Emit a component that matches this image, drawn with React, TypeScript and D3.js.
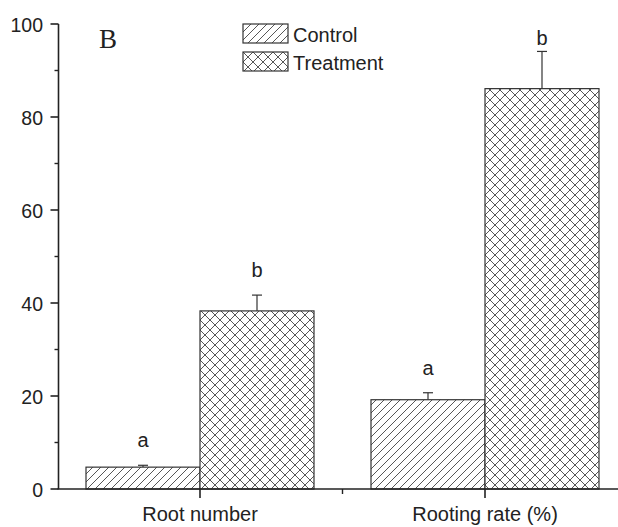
import React from 'react';
import * as d3 from 'd3';

const categories = ['Root number', 'Rooting rate (%)'];
const groups = ['Control', 'Treatment'];
const controlValues = [4.7, 19.2];
const controlErrors = [0.4, 1.5];
const treatmentValues = [38.3, 86.1];
const treatmentErrors = [3.4, 8.0];
const controlLetters = ['a', 'a'];
const treatmentLetters = ['b', 'b'];
const yTicks = [0, 20, 40, 60, 80, 100];
const yMinorTicks = [10, 30, 50, 70, 90];

const W = 618;
const H = 527;
const font = '"Liberation Sans", Arial, sans-serif';

const App = () => {
  const y = d3.scaleLinear().domain([0, 100]).range([489, 24]);
  // axis runs from 0.5 to 2.5 category units, cut by the right edge
  const x0 = d3.scaleBand().domain(categories).range([57.5, 627.5]).padding(0);
  const x1 = d3
    .scaleBand()
    .domain(groups)
    .range([0, x0.bandwidth()])
    .paddingInner(0)
    .paddingOuter(0.25);

  const series = [
    { key: 'Control', values: controlValues, errors: controlErrors, letters: controlLetters, fill: 'url(#hatchDiag)' },
    { key: 'Treatment', values: treatmentValues, errors: treatmentErrors, letters: treatmentLetters, fill: 'url(#hatchCross)' },
  ];

  const axisX = 58.5;
  const baseY = y(0);

  return (
    <svg width={W} height={H} style={{ position: 'absolute', left: 0, top: 0, background: '#fff' }}>
      <defs>
        <pattern id="hatchDiag" width="8" height="8" patternUnits="userSpaceOnUse">
          <rect width="8" height="8" fill="#fff" />
          <path d="M-1,1 L1,-1 M0,8 L8,0 M7,9 L9,7" stroke="#444" strokeWidth="0.9" />
        </pattern>
        <pattern id="hatchCross" width="10" height="10" patternUnits="userSpaceOnUse">
          <rect width="10" height="10" fill="#fff" />
          <path d="M0,10 L10,0 M-1,1 L1,-1 M9,11 L11,9 M0,0 L10,10 M-1,9 L1,11 M9,-1 L11,1" stroke="#444" strokeWidth="0.9" />
        </pattern>
      </defs>

      {/* bars */}
      {series.map((s) =>
        categories.map((c, i) => {
          const bx = (x0(c) ?? 0) + (x1(s.key) ?? 0);
          const bw = x1.bandwidth();
          const top = y(s.values[i]);
          const errTop = y(s.values[i] + s.errors[i]);
          const cx = bx + bw / 2;
          const letterY = Math.max(errTop - 18, 45);
          return (
            <g key={s.key + c}>
              <line x1={cx} x2={cx} y1={top} y2={errTop} stroke="#333" strokeWidth={1.2} />
              <line x1={cx - 5} x2={cx + 5} y1={errTop} y2={errTop} stroke="#333" strokeWidth={1.2} />
              <rect x={bx} y={top} width={bw} height={baseY - top} fill={s.fill} stroke="#333" strokeWidth={1.2} />
              <text x={cx} y={letterY} textAnchor="middle" fontFamily={font} fontSize={20} fill="#222">
                {s.letters[i]}
              </text>
            </g>
          );
        })
      )}

      {/* y axis */}
      <line x1={axisX} x2={axisX} y1={y(100)} y2={baseY} stroke="#222" strokeWidth={1.6} />
      {yTicks.map((t) => (
        <g key={t}>
          <line x1={axisX - 8} x2={axisX} y1={y(t)} y2={y(t)} stroke="#222" strokeWidth={1.6} />
          <text x={43} y={y(t) + 7.5} textAnchor="end" fontFamily={font} fontSize={19.5} fill="#222">
            {t}
          </text>
        </g>
      ))}
      {yMinorTicks.map((t) => (
        <line key={t} x1={axisX - 4} x2={axisX} y1={y(t)} y2={y(t)} stroke="#222" strokeWidth={1.4} />
      ))}

      {/* x axis */}
      <line x1={axisX - 1} x2={W} y1={baseY} y2={baseY} stroke="#222" strokeWidth={1.6} />
      {categories.map((c) => {
        const cx = (x0(c) ?? 0) + x0.bandwidth() / 2;
        return (
          <g key={c}>
            <line x1={cx} x2={cx} y1={baseY} y2={baseY + 9} stroke="#222" strokeWidth={1.6} />
            <text x={cx} y={521} textAnchor="middle" fontFamily={font} fontSize={20} fill="#222">
              {c}
            </text>
          </g>
        );
      })}
      <line x1={x0(categories[1])} x2={x0(categories[1])} y1={baseY} y2={baseY + 5} stroke="#222" strokeWidth={1.4} />

      {/* panel letter */}
      <text x={99} y={48} fontFamily='"Liberation Serif", "Times New Roman", serif' fontSize={27} fill="#222">
        B
      </text>

      {/* legend */}
      {series.map((s, i) => (
        <g key={s.key} transform={`translate(243, ${24 + i * 28})`}>
          <rect x={0} y={0} width={45} height={19} fill={s.fill} stroke="#333" strokeWidth={1.2} />
          <text x={50} y={18} fontFamily={font} fontSize={20} fill="#222">
            {s.key}
          </text>
        </g>
      ))}
    </svg>
  );
};

export default App;
